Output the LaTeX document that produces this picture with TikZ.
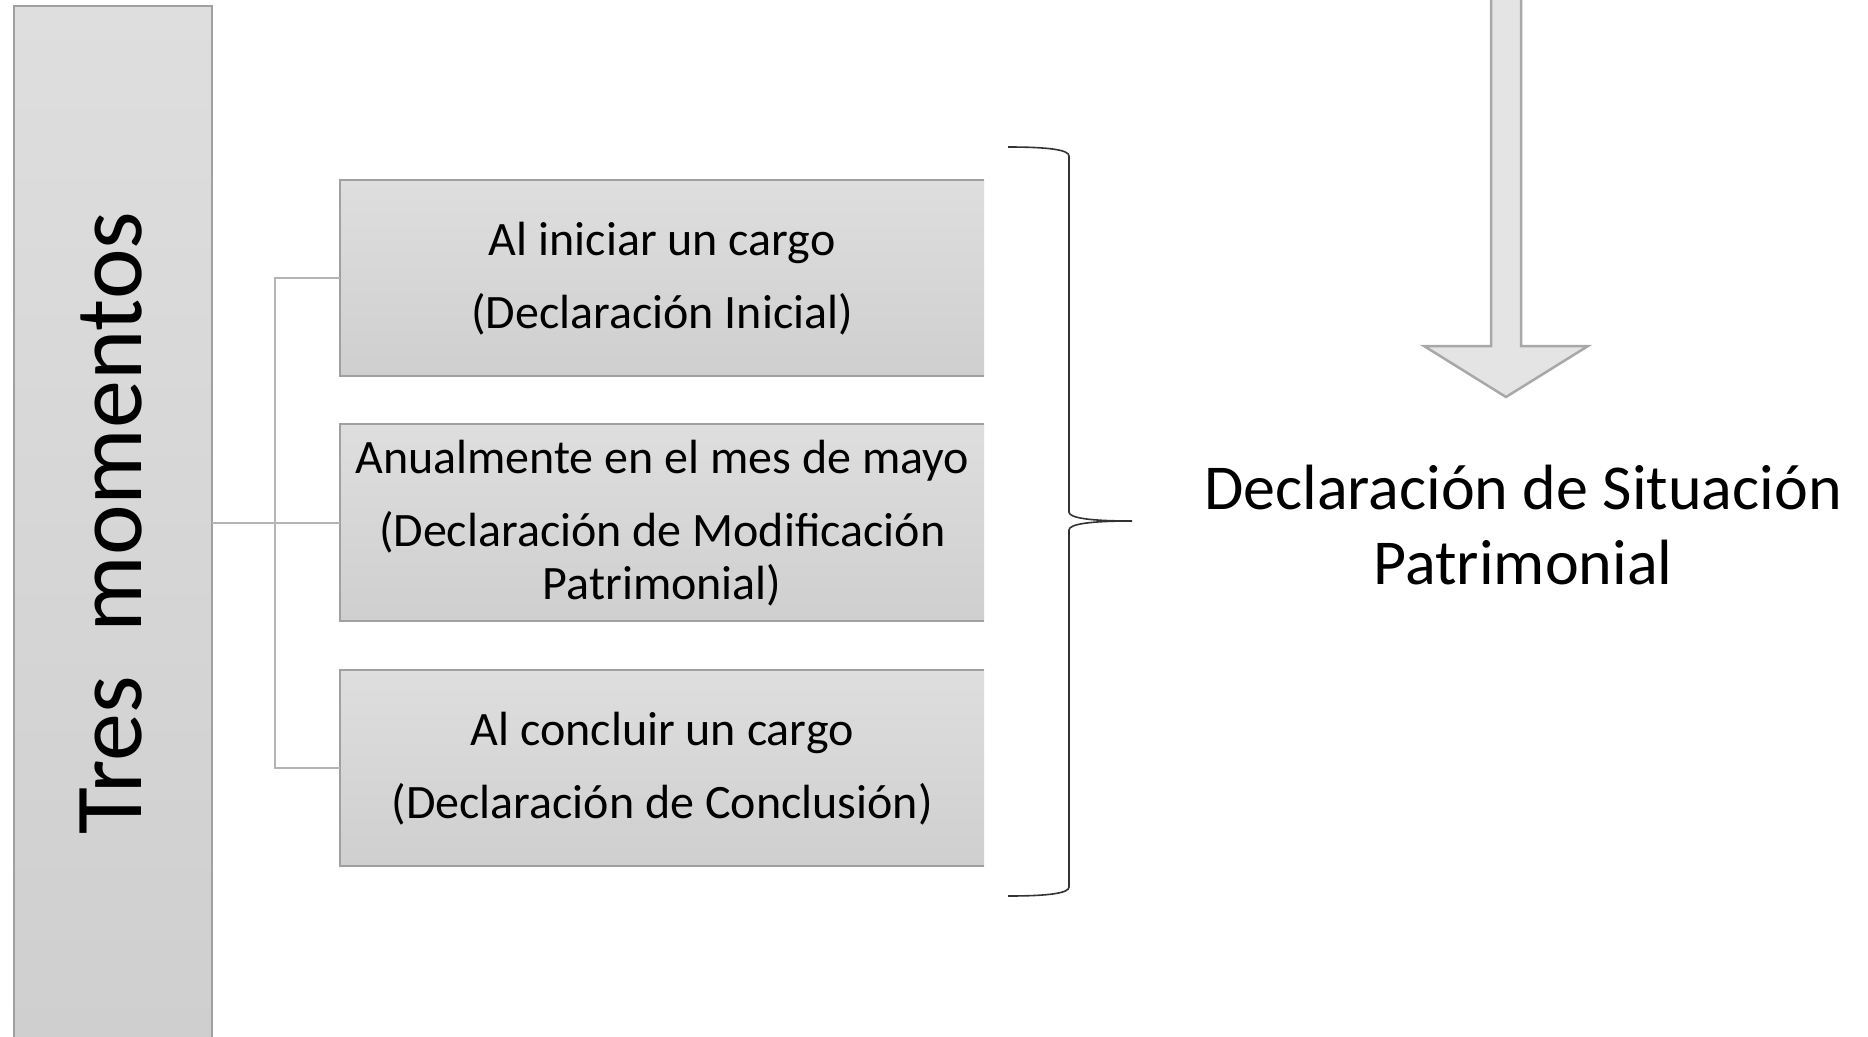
\documentclass[tikz,border=0pt]{standalone}
\usepackage{fontspec}
\setmainfont{Carlito}
\definecolor{boxtop}{HTML}{DEDEDE}
\definecolor{boxbot}{HTML}{CFCFCF}
\definecolor{boxline}{HTML}{A0A0A0}
\definecolor{connline}{HTML}{B4B4B4}
\definecolor{arrowfill}{HTML}{E4E4E4}
\definecolor{arrowline}{HTML}{A8A8A8}
\begin{document}
\begin{tikzpicture}[x=1pt,y=-1pt,
  gbox/.style={rectangle, inner sep=0pt, top color=boxtop, bottom color=boxbot, draw=none},
  boxtext/.style={align=center, font=\fontsize{48}{53}\selectfont, inner sep=0pt},
  conn/.style={draw=connline, line width=2pt},
  border/.style={draw=boxline, line width=2pt}]
\useasboundingbox (0,0) rectangle (1868,1036);
\fill[white] (0,0) rectangle (1868,1036);
% left tall box
\node[gbox, minimum width=198pt, minimum height=1036pt, anchor=north west] (tres) at (14,6) {};
\draw[border] (tres.south west) -- (tres.north west) -- (tres.north east) -- (tres.south east);
\node[rotate=90, font=\fontsize{96}{110}\selectfont, inner sep=0pt] (trestext) at (111,523) {Tres\ \ momentos};
% three boxes
\node[gbox, minimum width=644pt, minimum height=196pt, anchor=north west] (b1) at (340,180) {};
\node[gbox, minimum width=644pt, minimum height=197pt, anchor=north west] (b2) at (340,424) {};
\node[gbox, minimum width=644pt, minimum height=196pt, anchor=north west] (b3) at (340,670) {};
\foreach \b in {b1,b2,b3}{
  \draw[border] (\b.north east) -- (\b.north west) -- (\b.south west) -- (\b.south east);
}
\node[boxtext] (t1) at (b1.center) {Al iniciar un cargo\\[20pt](Declaración Inicial)};
\node[boxtext] (t2) at (b2.center) {Anualmente en el mes de mayo\\[20pt](Declaración de Modificación\\Patrimonial)};
\node[boxtext] (t3) at (b3.center) {Al concluir un cargo\\[20pt](Declaración de Conclusión)};
% connectors
\draw[conn] (tres.east |- b2.west) -- (b2.west);
\draw[conn] (b1.west) -- ++(-65,0) |- (b3.west);
% brace
\coordinate (bt) at (1008,147);
\coordinate (bb) at (1008,896);
\coordinate (btip) at (1132,521);
\draw[black!80, line width=1.6pt] (bt) .. controls (1050,147) and (1069,150) .. (1069,156)
  -- (1069,512) .. controls (1069,518) and (1090,521) .. (btip)
  (btip) .. controls (1090,521) and (1069,524) .. (1069,530)
  -- (1069,887) .. controls (1069,893) and (1050,896) .. (bb);
% right text
\node[align=center, font=\fontsize{64}{75}\selectfont, inner sep=0pt] (dsp) at (1523,525) {Declaración de Situación\\Patrimonial};
% arrow
\draw[fill=arrowfill, draw=arrowline, line width=2.5pt, line join=miter]
  (1491,-10) -- (1491,346) -- (1424,346) -- (1506,397) -- (1588,346) -- (1521,346) -- (1521,-10);
\end{tikzpicture}
\end{document}
